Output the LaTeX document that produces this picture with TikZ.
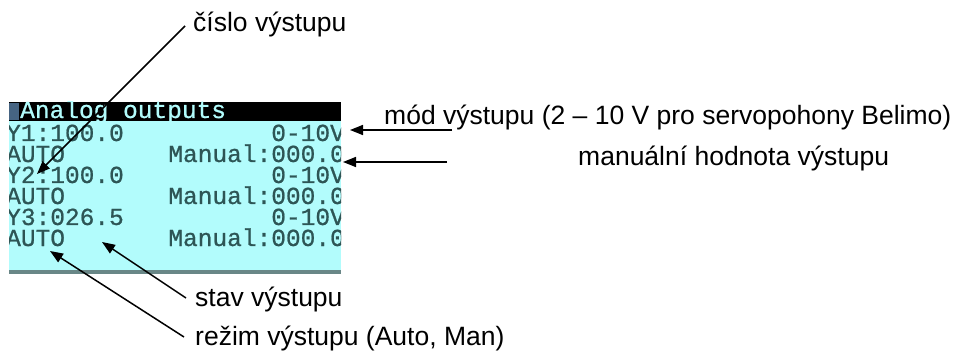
\documentclass[tikz,border=0pt]{standalone}
\usepackage{fontspec}
\setmainfont{Liberation Sans}
\newfontfamily\lcdfont[FakeBold=0.8]{Liberation Mono}
\usetikzlibrary{arrows.meta}
\definecolor{lcdbg}{RGB}{178,252,252}
\definecolor{lcdink}{RGB}{45,85,85}
\definecolor{lcdrim}{RGB}{105,135,135}
\definecolor{lcdcur}{RGB}{70,100,130}
\begin{document}
\begin{tikzpicture}[x=1pt,y=-1pt,>={Triangle[length=13pt,width=10pt]},
  lbl/.style={anchor=base west,inner sep=0pt,font=\fontsize{26.5}{30}\selectfont},
  lcd/.style={inner sep=0pt,font=\lcdfont\fontsize{24.5}{26}\selectfont,text=lcdink},
  pointer/.style={->,line width=1.5pt}]
\useasboundingbox (0,0) rectangle (958,358);
% display
\fill[lcdbg] (9,102) rectangle (341,270);
\fill[black] (9,102) rectangle (341,121);
\fill[lcdcur] (9,103) rectangle (19,120);
\fill[lcdrim] (9,270) rectangle (341,274);
\begin{scope}
\clip (9,102) rectangle (341,274);
\node[lcd,anchor=base west,text=lcdbg] (title) at (20,118) {Analog outputs};
\node[lcd,anchor=base west] (y1) at (6,141) {Y1:100.0};
\node[lcd,anchor=base east] (v1) at (345,141) {0-10V};
\node[lcd,anchor=base west] (a1) at (6,162) {AUTO};
\node[lcd,anchor=base east] (m1) at (345,162) {Manual:000.0};
\node[lcd,anchor=base west] (y2) at (6,183) {Y2:100.0};
\node[lcd,anchor=base east] (v2) at (345,183) {0-10V};
\node[lcd,anchor=base west] (a2) at (6,204) {AUTO};
\node[lcd,anchor=base east] (m2) at (345,204) {Manual:000.0};
\node[lcd,anchor=base west] (y3) at (6,225) {Y3:026.5};
\node[lcd,anchor=base east] (v3) at (345,225) {0-10V};
\node[lcd,anchor=base west] (a3) at (6,246) {AUTO};
\node[lcd,anchor=base east] (m3) at (345,246) {Manual:000.0};
\end{scope}
% labels
\node[lbl] (cislo) at (193,32) {číslo výstupu};
\node[lbl] (mod) at (384,125) {mód výstupu (2 – 10 V pro servopohony Belimo)};
\node[lbl] (manual) at (578,166) {manuální hodnota výstupu};
\node[lbl] (stav) at (195,306) {stav výstupu};
\node[lbl] (rezim) at (195,345) {režim výstupu (Auto, Man)};
% arrow tips on the display
\coordinate (cislotip) at (37,174);
\coordinate (modtip) at (350,130);
\coordinate (manualtip) at (343,162);
\coordinate (manualtail) at (447,162);
\coordinate (stavtip) at (102,242);
\coordinate (rezimtip) at (50,251);
\draw[pointer] ([shift={(-8,-6)}]cislo.base west) -- (cislotip);
\draw[pointer] ([shift={(68,5)}]mod.base west) -- (modtip);
\draw[pointer] (manualtail) -- (manualtip);
\draw[pointer] ([shift={(-9,-8)}]stav.base west) -- (stavtip);
\draw[pointer] ([shift={(-11,-8)}]rezim.base west) -- (rezimtip);
\end{tikzpicture}
\end{document}
